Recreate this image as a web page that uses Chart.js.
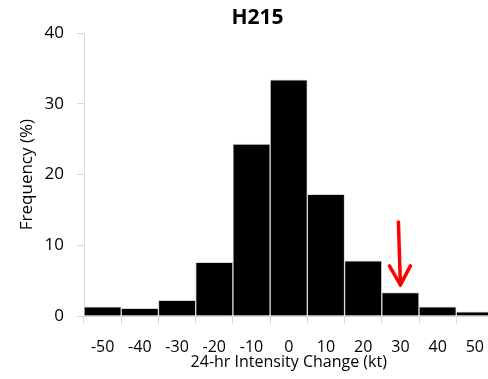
<!DOCTYPE html>
<html>
<head>
<meta charset="utf-8">
<script src="https://cdn.jsdelivr.net/npm/chart.js@4"></script>
<style>
    html, body { margin: 0; padding: 0; background: #fff; overflow: hidden; }
    #wrap { width: 498px; height: 379px; }
</style>
</head>
<body>
<div id="wrap"><canvas id="hist-chart"></canvas></div>
<script>
// 24-hr intensity change bins (kt) and frequency (%)
const bins = ['-50', '-40', '-30', '-20', '-10', '0', '10', '20', '30', '40', '50'];
const freq = [1.3, 1.1, 2.2, 7.6, 24.3, 33.4, 17.2, 7.8, 3.3, 1.3, 0.6];
const yTicks = [0, 10, 20, 30, 40];

// red arrow marking the H215 bin: category, start value, tip value
const arrowBin = '30';
const arrowFrom = 13.3;
const arrowTo = 4.4;

const font = "'Open Sans', sans-serif";

const arrowPlugin = {
    id: 'arrow',
    afterDatasetsDraw(chart) {
        const ctx = chart.ctx;
        const x = chart.scales.x.getPixelForValue(bins.indexOf(arrowBin));
        const y0 = chart.scales.y.getPixelForValue(arrowFrom);
        const y1 = chart.scales.y.getPixelForValue(arrowTo);
        ctx.save();
        ctx.strokeStyle = '#ff0000';
        ctx.lineWidth = 3.5;
        ctx.lineCap = 'round';
        ctx.lineJoin = 'round';
        ctx.beginPath();
        ctx.moveTo(x - 2, y0);
        ctx.lineTo(x, y1);
        ctx.stroke();
        ctx.beginPath();
        ctx.moveTo(x - 11, y1 - 19);
        ctx.lineTo(x, y1);
        ctx.lineTo(x + 10, y1 - 19);
        ctx.stroke();
        ctx.restore();
    }
};

let histChart = new Chart(document.getElementById('hist-chart'), {
    type: 'bar',
    data: {
        labels: bins,
        datasets: [{
            data: freq,
            backgroundColor: '#000000',
            borderColor: '#d9d9d9',
            borderWidth: 1,
            barPercentage: 1,
            categoryPercentage: 1
        }]
    },
    plugins: [arrowPlugin],
    options: {
        responsive: true,
        maintainAspectRatio: false,
        animation: false,
        layout: {
            padding: { left: 17, right: 0, top: 0, bottom: 7 }
        },
        plugins: {
            legend: { display: false },
            tooltip: { enabled: false },
            title: {
                display: true,
                text: 'H215',
                color: '#000',
                padding: { top: 5, bottom: 3 },
                font: { size: 21, weight: 'bold', family: font }
            }
        },
        scales: {
            x: {
                offset: true,
                grid: {
                    offset: true,
                    drawOnChartArea: false,
                    color: '#d9d9d9',
                    tickLength: 8
                },
                border: { display: true, color: '#d9d9d9' },
                ticks: {
                    color: '#000',
                    maxRotation: 0,
                    autoSkip: false,
                    padding: 14,
                    font: { size: 16, family: font }
                },
                title: {
                    display: true,
                    text: '24-hr Intensity Change (kt)',
                    color: '#000',
                    padding: { top: 0, bottom: 0 },
                    font: { size: 16, family: font }
                },
                afterFit: function (scale) { scale.height = 56; }
            },
            y: {
                min: 0,
                max: 40,
                afterBuildTicks: function (scale) {
                    scale.ticks = yTicks.map(v => ({ value: v }));
                },
                grid: {
                    drawOnChartArea: false,
                    color: '#d9d9d9',
                    tickLength: 7
                },
                border: { display: true, color: '#d9d9d9' },
                ticks: {
                    color: '#000',
                    padding: 13,
                    font: { size: 17, family: font }
                },
                title: {
                    display: true,
                    text: 'Frequency (%)',
                    color: '#000',
                    padding: { top: 0, bottom: 4 },
                    font: { size: 17, family: font }
                },
                afterFit: function (scale) { scale.width = 67; }
            }
        }
    }
});
</script>
</body>
</html>
